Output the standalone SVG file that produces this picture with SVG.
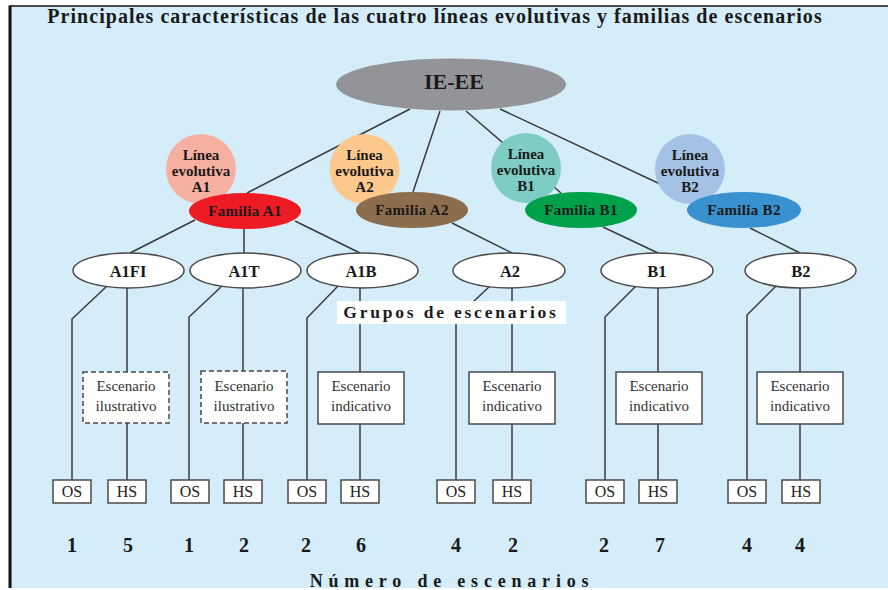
<svg xmlns="http://www.w3.org/2000/svg" width="888" height="590" viewBox="0 0 888 590">
<style>
.t{font-family:"Liberation Serif","Times New Roman",serif;fill:#1a1a1a}
.b{font-weight:bold}
.ln{stroke:#3a3a3a;stroke-width:1.5;fill:none}
.se{fill:#ffffff;stroke:#4a4a4a;stroke-width:1.5}
.bx{fill:#ffffff;stroke:#4a4a4a;stroke-width:1.5}
.dbx{fill:#ffffff;stroke:#4a4a4a;stroke-width:1.5;stroke-dasharray:5,3}
.ct{font-size:15px;font-weight:bold;text-anchor:middle}
.fa{font-size:15px;font-weight:bold;text-anchor:middle;letter-spacing:0.3px}
.sc{font-size:16.5px;font-weight:bold;text-anchor:middle}
.es{font-size:15px;text-anchor:middle;fill:#333}
.sm{font-size:16px;text-anchor:middle;fill:#222}
.nm{font-size:20px;font-weight:bold;text-anchor:middle}
</style>
<rect x="0" y="0" width="888" height="590" fill="#ffffff"/>
<rect x="10" y="6" width="878" height="582" fill="#d5ecf9"/>
<line x1="10" y1="6" x2="888" y2="6" stroke="#111" stroke-width="1.5"/>
<line x1="10" y1="5.5" x2="10" y2="588" stroke="#111" stroke-width="3"/>

<text class="t b" x="435" y="23" font-size="20" letter-spacing="1.05" text-anchor="middle" fill="#2a2a2a">Principales características de las cuatro líneas evolutivas y familias de escenarios</text>

<g id="connectors">
<line class="ln" x1="410" y1="109" x2="247" y2="193"/>
<line class="ln" x1="440" y1="111" x2="413" y2="192"/>
<line class="ln" x1="466" y1="111" x2="561" y2="193"/>
<line class="ln" x1="500" y1="109" x2="690" y2="198"/>
<line class="ln" x1="195" y1="220" x2="130" y2="253"/>
<line class="ln" x1="244" y1="229" x2="244" y2="253"/>
<line class="ln" x1="295" y1="221" x2="360" y2="253"/>
<line class="ln" x1="452" y1="223" x2="512" y2="253"/>
<line class="ln" x1="603" y1="227" x2="658" y2="253"/>
<line class="ln" x1="750" y1="228" x2="800" y2="253"/>
<polyline class="ln" points="107,286 72,319 72,480"/>
<line class="ln" x1="127" y1="288" x2="127" y2="480"/>
<polyline class="ln" points="222,286 189,317 189,480"/>
<line class="ln" x1="243" y1="288" x2="243" y2="480"/>
<polyline class="ln" points="338,286 307,318 307,480"/>
<line class="ln" x1="360" y1="288" x2="360" y2="480"/>
<polyline class="ln" points="490,286 456,318 456,480"/>
<line class="ln" x1="512" y1="288" x2="512" y2="480"/>
<polyline class="ln" points="636,286 605,317 605,480"/>
<line class="ln" x1="658" y1="288" x2="658" y2="480"/>
<polyline class="ln" points="776,286 747,315 747,480"/>
<line class="ln" x1="800" y1="288" x2="800" y2="480"/>
</g>

<g id="iee">
<ellipse cx="451" cy="84.5" rx="115" ry="26" fill="#929497"/>
<text class="t b" x="454" y="89" font-size="22" text-anchor="middle">IE-EE</text>
</g>

<g id="linea-a1">
<circle cx="201" cy="169" r="35" fill="#f6b0a1"/>
<text class="t ct"><tspan x="201" y="160">Línea</tspan><tspan x="201" y="176">evolutiva</tspan><tspan x="201" y="192">A1</tspan></text>
</g>
<g id="linea-a2">
<circle cx="364.5" cy="169" r="35" fill="#fcc88b"/>
<text class="t ct"><tspan x="364.5" y="160">Línea</tspan><tspan x="364.5" y="176">evolutiva</tspan><tspan x="364.5" y="192">A2</tspan></text>
</g>
<g id="linea-b1">
<circle cx="526" cy="168" r="35" fill="#7dcdc4"/>
<text class="t ct"><tspan x="526" y="159">Línea</tspan><tspan x="526" y="175">evolutiva</tspan><tspan x="526" y="191">B1</tspan></text>
</g>
<g id="linea-b2">
<circle cx="690" cy="169" r="35" fill="#a3c2e6"/>
<text class="t ct"><tspan x="690" y="160">Línea</tspan><tspan x="690" y="176">evolutiva</tspan><tspan x="690" y="192">B2</tspan></text>
</g>

<g id="familia-a1">
<ellipse cx="245" cy="211" rx="56" ry="18" fill="#ed1c24"/>
<text class="t fa" x="245" y="216">Familia A1</text>
</g>
<g id="familia-a2">
<ellipse cx="412" cy="210" rx="56" ry="18" fill="#8c6d4d"/>
<text class="t fa" x="412" y="215">Familia A2</text>
</g>
<g id="familia-b1">
<ellipse cx="581" cy="210" rx="56" ry="18" fill="#00a14b"/>
<text class="t fa" x="581" y="215">Familia B1</text>
</g>
<g id="familia-b2">
<ellipse cx="744" cy="210" rx="57" ry="18" fill="#3a91d0"/>
<text class="t fa" x="744" y="215">Familia B2</text>
</g>

<g id="a1fi"><ellipse class="se" cx="128.5" cy="270.5" rx="55.5" ry="17.5"/><text class="t sc" x="128" y="276.5">A1FI</text></g>
<g id="a1t"><ellipse class="se" cx="245.5" cy="270.5" rx="55.5" ry="17.5"/><text class="t sc" x="244" y="276.5">A1T</text></g>
<g id="a1b"><ellipse class="se" cx="362.5" cy="270.5" rx="55.5" ry="17.5"/><text class="t sc" x="361" y="276.5">A1B</text></g>
<g id="a2"><ellipse class="se" cx="509" cy="270.5" rx="56" ry="17.5"/><text class="t sc" x="510" y="276.5">A2</text></g>
<g id="b1"><ellipse class="se" cx="657" cy="270.5" rx="56" ry="17.5"/><text class="t sc" x="657" y="276.5">B1</text></g>
<g id="b2"><ellipse class="se" cx="800.5" cy="270.5" rx="55.5" ry="17.5"/><text class="t sc" x="801" y="276.5">B2</text></g>

<g id="grupos-label">
<rect x="337" y="301" width="229" height="23" fill="#ffffff"/>
<text class="t b" x="451" y="318" font-size="17.5" letter-spacing="2.8" text-anchor="middle">Grupos de escenarios</text>
</g>

<g id="esc-a1fi"><rect class="dbx" x="83" y="372" width="86" height="51"/><text class="t es"><tspan x="126" y="391">Escenario</tspan><tspan x="126" y="411">ilustrativo</tspan></text></g>
<g id="esc-a1t"><rect class="dbx" x="201" y="371" width="86" height="52"/><text class="t es"><tspan x="244" y="391">Escenario</tspan><tspan x="244" y="411">ilustrativo</tspan></text></g>
<g id="esc-a1b"><rect class="bx" x="318" y="372" width="86" height="52"/><text class="t es"><tspan x="361" y="391">Escenario</tspan><tspan x="361" y="411">indicativo</tspan></text></g>
<g id="esc-a2"><rect class="bx" x="469" y="372" width="86" height="52"/><text class="t es"><tspan x="512" y="391">Escenario</tspan><tspan x="512" y="411">indicativo</tspan></text></g>
<g id="esc-b1"><rect class="bx" x="616" y="372" width="86" height="52"/><text class="t es"><tspan x="659" y="391">Escenario</tspan><tspan x="659" y="411">indicativo</tspan></text></g>
<g id="esc-b2"><rect class="bx" x="757" y="372" width="86" height="52"/><text class="t es"><tspan x="800" y="391">Escenario</tspan><tspan x="800" y="411">indicativo</tspan></text></g>

<g id="os-a1fi"><rect class="bx" x="53" y="480" width="38" height="23"/><text class="t sm" x="72" y="497">OS</text></g>
<g id="hs-a1fi"><rect class="bx" x="108" y="480" width="38" height="23"/><text class="t sm" x="127" y="497">HS</text></g>
<g id="os-a1t"><rect class="bx" x="171" y="480" width="38" height="23"/><text class="t sm" x="190" y="497">OS</text></g>
<g id="hs-a1t"><rect class="bx" x="224" y="480" width="38" height="23"/><text class="t sm" x="243" y="497">HS</text></g>
<g id="os-a1b"><rect class="bx" x="288" y="480" width="38" height="23"/><text class="t sm" x="307" y="497">OS</text></g>
<g id="hs-a1b"><rect class="bx" x="341" y="480" width="38" height="23"/><text class="t sm" x="360" y="497">HS</text></g>
<g id="os-a2"><rect class="bx" x="437" y="480" width="38" height="23"/><text class="t sm" x="456" y="497">OS</text></g>
<g id="hs-a2"><rect class="bx" x="493" y="480" width="38" height="23"/><text class="t sm" x="512" y="497">HS</text></g>
<g id="os-b1"><rect class="bx" x="586" y="480" width="38" height="23"/><text class="t sm" x="605" y="497">OS</text></g>
<g id="hs-b1"><rect class="bx" x="639" y="480" width="38" height="23"/><text class="t sm" x="658" y="497">HS</text></g>
<g id="os-b2"><rect class="bx" x="728" y="480" width="38" height="23"/><text class="t sm" x="747" y="497">OS</text></g>
<g id="hs-b2"><rect class="bx" x="782" y="480" width="38" height="23"/><text class="t sm" x="801" y="497">HS</text></g>

<g id="numeros">
<text class="t nm" x="72" y="552">1</text>
<text class="t nm" x="128" y="552">5</text>
<text class="t nm" x="189" y="552">1</text>
<text class="t nm" x="244" y="552">2</text>
<text class="t nm" x="306" y="552">2</text>
<text class="t nm" x="361" y="552">6</text>
<text class="t nm" x="456" y="552">4</text>
<text class="t nm" x="513" y="552">2</text>
<text class="t nm" x="604" y="552">2</text>
<text class="t nm" x="660" y="552">7</text>
<text class="t nm" x="747" y="552">4</text>
<text class="t nm" x="800" y="552">4</text>
<text class="t b" x="452" y="587" font-size="18" letter-spacing="5.8" text-anchor="middle">Número de escenarios</text>
</g>
</svg>
